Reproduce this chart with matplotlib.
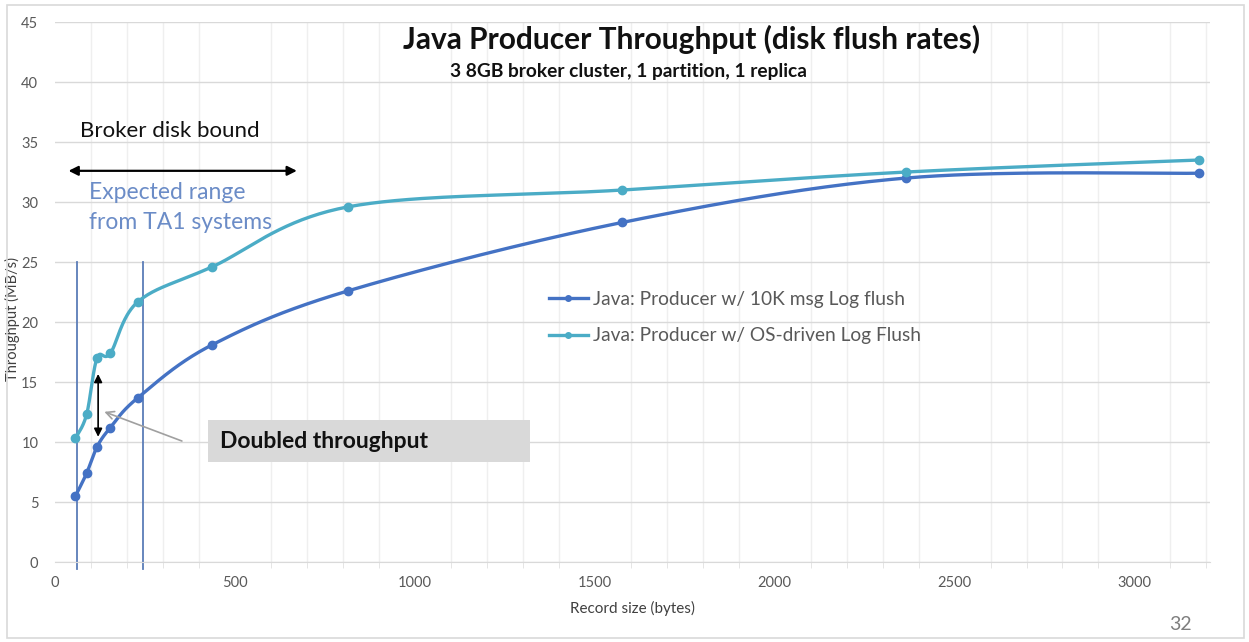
import numpy as np
import matplotlib.pyplot as plt
from matplotlib.patches import Rectangle

plt.rcParams['font.family'] = ['Lato', 'DejaVu Sans']

# record sizes (bytes) and throughput (MB/s)
record_size = [57, 88, 117, 154, 231, 437, 815, 1577, 2366, 3180]
tput_10k_flush = [5.5, 7.4, 9.6, 11.2, 13.7, 18.1, 22.6, 28.3, 32.0, 32.4]
tput_os_flush = [10.3, 12.3, 17.0, 17.4, 21.7, 24.6, 29.6, 31.0, 32.5, 33.5]

label_10k = 'Java: Producer w/ 10K msg Log flush'
label_os = 'Java: Producer w/ OS-driven Log Flush'

range_lines = [60, 244]

BLUE = '#4472C4'
CYAN = '#4BACC6'


def smooth(xs, ys, xscale, yscale, n=40):
    # Catmull-Rom style bezier through the points, done in screen-like units
    px = np.asarray(xs, float) * xscale
    py = np.asarray(ys, float) * yscale
    pts = np.column_stack([px, py])
    out = []
    for i in range(len(pts) - 1):
        p0 = pts[max(i - 1, 0)]
        p1 = pts[i]
        p2 = pts[i + 1]
        p3 = pts[min(i + 2, len(pts) - 1)]
        c1 = p1 + (p2 - p0) / 6.0
        c2 = p2 - (p3 - p1) / 6.0
        t = np.linspace(0, 1, n)[:, None]
        seg = ((1 - t) ** 3) * p1 + 3 * ((1 - t) ** 2) * t * c1 + 3 * (1 - t) * t ** 2 * c2 + t ** 3 * p2
        out.append(seg if i == 0 else seg[1:])
    out = np.vstack(out)
    return out[:, 0] / xscale, out[:, 1] / yscale


fig = plt.figure(figsize=(12.49, 6.42), dpi=100)
ax = fig.add_axes([0.044, 0.1246, 0.9248, 0.8411])

# outer frame of the chart
fig.patches.append(Rectangle((0.006, 0.006), 0.99, 0.986, transform=fig.transFigure,
                             fill=False, edgecolor='#D9D9D9', linewidth=1.2))

xs_px, ys_px = 0.36, 12.0
for ys, col, lab in [(tput_10k_flush, BLUE, label_10k), (tput_os_flush, CYAN, label_os)]:
    sx, sy = smooth(record_size, ys, xs_px, ys_px)
    ax.plot(sx, sy, color=col, linewidth=2.4, zorder=3)
    ax.plot(record_size, ys, 'o', color=col, markersize=6, zorder=4)
    ax.plot([], [], color=col, linewidth=2.4, marker='o', markersize=4, label=lab)

for xv in range_lines:
    ax.plot([xv, xv], [-0.6, 25], color='#5B7DB8', linewidth=1.3, zorder=2, clip_on=False)

ax.set_xlim(0, 3210)
ax.set_ylim(0, 45)
ax.set_xticks(np.arange(0, 3001, 500))
ax.set_xticks(np.arange(0, 3201, 100), minor=True)
ax.set_yticks(np.arange(0, 46, 5))
ax.grid(True, axis='y', which='major', color='#D9D9D9', linewidth=1.0)
ax.grid(True, axis='x', which='minor', color='#EFEFEF', linewidth=1.0)
ax.set_axisbelow(True)
for s in ['top', 'right', 'left']:
    ax.spines[s].set_visible(False)
ax.spines['bottom'].set_color('#D9D9D9')
ax.tick_params(axis='both', which='both', colors='#595959', labelsize=10.5, length=0)
ax.tick_params(axis='x', which='minor', length=4, color='#E0E0E0')
ax.tick_params(axis='x', which='major', pad=10)
ax.tick_params(axis='y', pad=12)

ax.set_xlabel('Record size (bytes)', fontsize=11, color='#404040', labelpad=8)
ax.set_ylabel('Throughput (MB/s)', fontsize=10.5, color='#404040')
ax.yaxis.set_label_coords(-0.03, 0.45)

fig.text(0.554, 0.938, 'Java Producer Throughput (disk flush rates)',
         fontsize=21.5, fontweight='bold', ha='center', va='center', color='#111111')
fig.text(0.503, 0.888, '3 8GB broker cluster, 1 partition, 1 replica',
         fontsize=13.8, fontweight='bold', ha='center', va='center', color='#111111')

ax.legend(loc='upper left', bbox_to_anchor=(0.413, 0.534), frameon=False, fontsize=13.8,
          labelcolor='#595959', handlelength=2.0, handletextpad=0.3, labelspacing=1.02)

# broker disk bound range
ax.text(70, 35.9, 'Broker disk bound', fontsize=16, color='#111111', va='center')
ax.annotate('', xy=(30, 32.6), xytext=(680, 32.6),
            arrowprops=dict(arrowstyle='<|-|>', color='black', lw=1.6, mutation_scale=14))
ax.text(95, 29.55, 'Expected range\nfrom TA1 systems', fontsize=16.5, color='#6B8CC7',
        va='center', linespacing=1.5)

# doubled throughput callout
ax.annotate('', xy=(120, 15.9), xytext=(120, 10.2),
            arrowprops=dict(arrowstyle='<|-|>', color='black', lw=1.2, mutation_scale=12))
ax.annotate('', xy=(130, 12.6), xytext=(360, 10.0),
            arrowprops=dict(arrowstyle='->', color='#A0A0A0', lw=1.2, mutation_scale=14))
ax.add_patch(Rectangle((425, 8.3), 895, 3.5, facecolor='#D9D9D9', edgecolor='none', zorder=2))
ax.text(460, 10.05, 'Doubled throughput', fontsize=16.5, fontweight='bold', color='#111111',
        va='center', zorder=5)

fig.text(0.945, 0.027, '32', fontsize=14, color='#7F7F7F', ha='center', va='center')

fig.savefig('out.png', dpi=100)
